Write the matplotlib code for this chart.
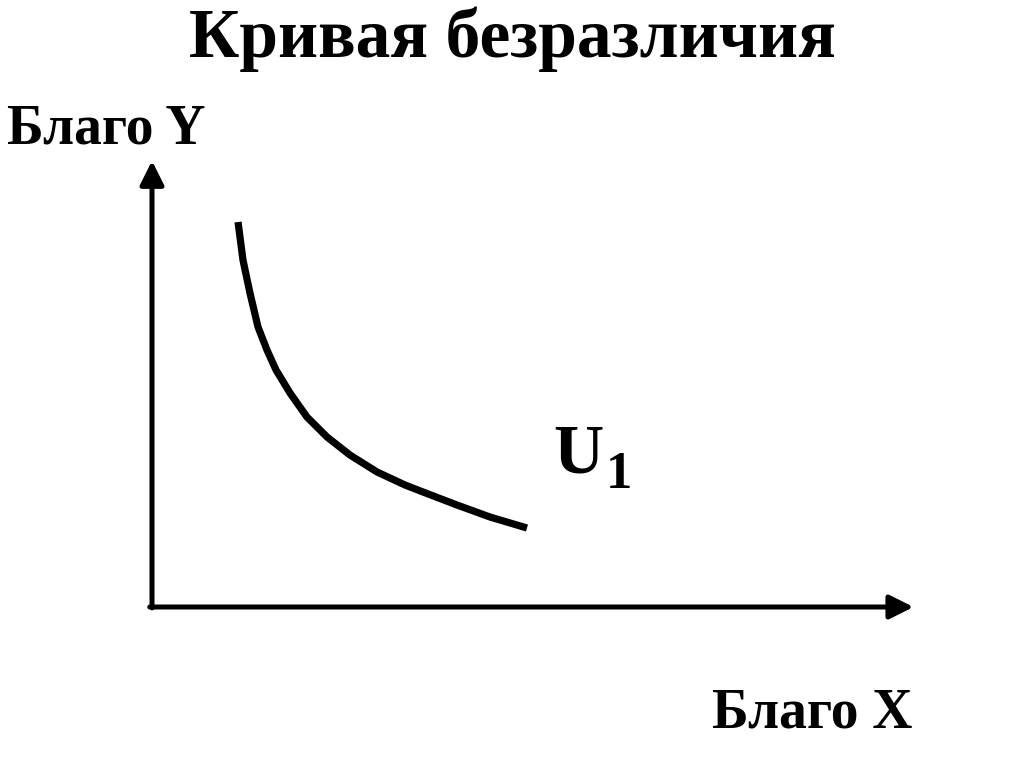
import matplotlib
matplotlib.use("Agg")
import matplotlib.pyplot as plt

# Indifference curve U1 (quantities of good X and good Y, axis units 0..10)
curve_x = [1.132, 1.197, 1.289, 1.395, 1.513, 1.632, 1.816, 2.039, 2.303,
           2.605, 2.961, 3.329, 3.566, 4.013, 4.447, 4.934]
curve_y = [8.671, 7.815, 7.072, 6.306, 5.788, 5.338, 4.820, 4.279, 3.829,
           3.423, 3.041, 2.748, 2.590, 2.297, 2.027, 1.779]
title_text = "Кривая безразличия"
y_label = "Благо Y"
x_label = "Благо X"
curve_label_main = "U"
curve_label_sub = "1"

W, H = 1024, 767
fig = plt.figure(figsize=(W / 100, H / 100), dpi=100)
fig.patch.set_facecolor("white")

ax = fig.add_axes([152 / W, (H - 607) / H, 760 / W, 444 / H])
ax.set_xlim(0, 10)
ax.set_ylim(0, 10)
ax.axis("off")

serif = ["Liberation Serif", "DejaVu Serif"]

arrow_style = "-|>,head_length=0.8,head_width=0.4"
ax.annotate("", xy=(0, 10.05), xytext=(0, -0.02),
            arrowprops=dict(arrowstyle=arrow_style, lw=3.6, color="black",
                            mutation_scale=18, shrinkA=0, shrinkB=0),
            annotation_clip=False)
ax.annotate("", xy=(10.02, 0), xytext=(-0.03, 0),
            arrowprops=dict(arrowstyle=arrow_style, lw=3.6, color="black",
                            mutation_scale=18, shrinkA=0, shrinkB=0),
            annotation_clip=False)

ax.plot(curve_x, curve_y, color="black", lw=5.2, solid_capstyle="butt",
        solid_joinstyle="round", clip_on=False)

ax.text(5.28, 3.02, curve_label_main, fontsize=50, fontweight="bold",
        family=serif, ha="left", va="baseline")
ax.text(5.97, 2.68, curve_label_sub, fontsize=38, fontweight="bold",
        family=serif, ha="left", va="baseline")

fig.text(512 / W, 1 - 57 / H, title_text, fontsize=50, fontweight="bold",
         family=serif, ha="center", va="baseline")
fig.text(7 / W, 1 - 143 / H, y_label, fontsize=40, fontweight="bold",
         family=serif, ha="left", va="baseline")
fig.text(912 / W, 1 - 727 / H, x_label, fontsize=40, fontweight="bold",
         family=serif, ha="right", va="baseline")

fig.savefig("out.png", dpi=100, facecolor="white")
